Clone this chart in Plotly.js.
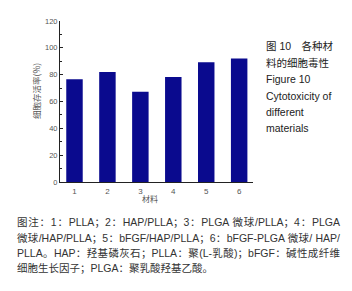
<!DOCTYPE html>
<html>
<head>
<meta charset="utf-8">
<script src="https://cdn.plot.ly/plotly-3.0.1.min.js"></script>
<style>
  html, body { margin: 0; padding: 0; background: #fff; }
  #wrap { position: relative; width: 352px; height: 291px; overflow: hidden; }
  #chart { position: absolute; left: 0; top: 0; width: 352px; height: 291px; }
  .side { position: absolute; left: 266px; font-family: "Liberation Sans", "Noto Sans CJK SC", sans-serif; font-size: 10.5px; color: #222; white-space: nowrap; line-height: 12px; }
  .cap { position: absolute; left: 17px; width: 323px; font-family: "Liberation Sans", "Noto Sans CJK SC", sans-serif; font-size: 10.5px; color: #333; line-height: 12px; text-align: justify; text-align-last: justify; }
  .cap.last { text-align-last: left; }
</style>
</head>
<body>
<div id="wrap">
  <div id="chart"></div>
</div>
<script>
const categories = [1, 2, 3, 4, 5, 6];
const tickLabels = ["1", "2", "3", "4", "5", "6"];
const survivalRate = [76.5, 82, 67.3, 78.2, 89.3, 92];

const yTitle = "细胞存活率(%)";
const xTitle = "材料";
const sideLines = ["图 10　各种材", "料的细胞毒性", "Figure 10", "Cytotoxicity of", "different", "materials"];
const captionLines = [
  "图注：1：PLLA；2：HAP/PLLA；3：PLGA 微球/PLLA；4：PLGA",
  "微球/HAP/PLLA；5：bFGF/HAP/PLLA；6：bFGF-PLGA 微球/ HAP/",
  "PLLA。HAP：羟基磷灰石；PLLA：聚(L-乳酸)；bFGF：碱性成纤维",
  "细胞生长因子；PLGA：聚乳酸羟基乙酸。"
];

const trace = {
  type: "bar",
  x: categories,
  y: survivalRate,
  width: 0.5,
  marker: { color: "#0a0a8e", line: { width: 0 } },
  hoverinfo: "skip"
};

const layout = {
  width: 352, height: 291,
  margin: { l: 60, r: 99, t: 21, b: 109, pad: 0 },
  paper_bgcolor: "#fff", plot_bgcolor: "#fff",
  showlegend: false,
  font: { family: "Liberation Sans, Arial, sans-serif", size: 8, color: "#555" },
  xaxis: {
    range: [0.56, 6.42],
    tickvals: categories, ticktext: tickLabels,
    ticks: "", showgrid: false, zeroline: false,
    showline: true, linecolor: "#222", linewidth: 1,
    tickfont: { size: 8, color: "#555" },
    ticklabelstandoff: 1,
    fixedrange: true
  },
  yaxis: {
    range: [0, 120], dtick: 20, tick0: 0,
    ticks: "inside", ticklen: 3, tickcolor: "#222",
    minor: { dtick: 10, ticks: "inside", ticklen: 2, tickcolor: "#222", showgrid: false },
    showgrid: false, zeroline: false,
    showline: true, linecolor: "#222", linewidth: 1,
    tickfont: { size: 7.5, color: "#555" },
    ticklabelstandoff: 0,
    fixedrange: true
  },
  annotations: [
    { text: yTitle, xref: "paper", yref: "paper", x: -0.125, y: 0.565, xanchor: "center", yanchor: "middle",
      textangle: -90, showarrow: false, font: { family: "Noto Sans CJK SC, sans-serif", size: 8.5, color: "#555" } },
    { text: xTitle, xref: "paper", yref: "paper", x: 0.465, y: -0.105, xanchor: "center", yanchor: "middle",
      showarrow: false, font: { family: "Noto Sans CJK SC, sans-serif", size: 8, color: "#555" } }
  ]
};

Plotly.newPlot("chart", [trace], layout, { staticPlot: true, displayModeBar: false });

const wrap = document.getElementById("wrap");
const sideTops = [40, 57, 73, 90, 106, 122];
sideLines.forEach((t, i) => {
  const d = document.createElement("div");
  d.className = "side";
  d.style.top = sideTops[i] + "px";
  d.textContent = t;
  wrap.appendChild(d);
});
const capTops = [216, 231.5, 246.5, 261.5];
captionLines.forEach((t, i) => {
  const d = document.createElement("div");
  d.className = "cap" + (i === captionLines.length - 1 ? " last" : "");
  d.style.top = capTops[i] + "px";
  d.textContent = t;
  wrap.appendChild(d);
});
</script>
</body>
</html>
